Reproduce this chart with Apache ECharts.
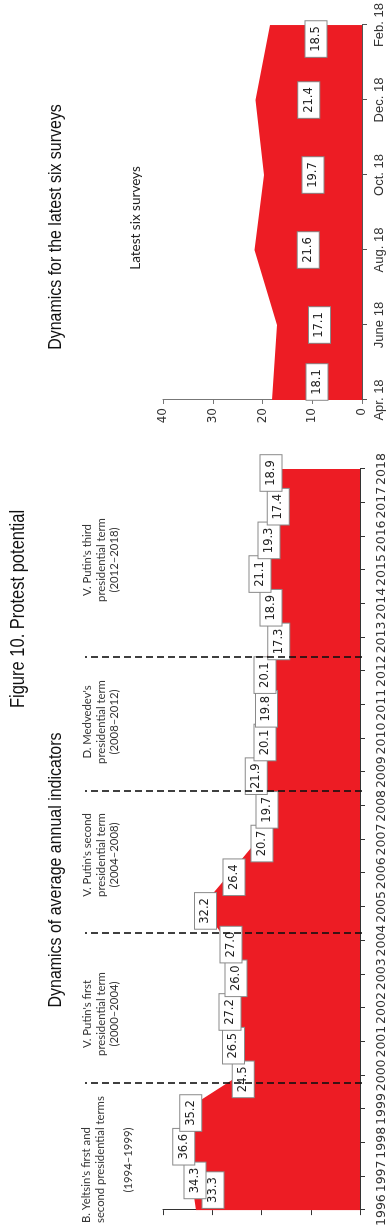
<!DOCTYPE html>
<html>
<head>
<meta charset="utf-8">
<script src="https://cdn.jsdelivr.net/npm/echarts@6/dist/echarts.min.js"></script>
<style>
  html, body { margin: 0; padding: 0; background: #fff; overflow: hidden; width: 388px; height: 1229px; }
  /* chart is drawn landscape, then turned to read bottom-to-top */
  #chart {
    position: absolute; left: 0; top: 0;
    width: 1229px; height: 388px;
    transform-origin: 0 0;
    transform: translate(0, 1229px) rotate(-90deg);
  }
</style>
</head>
<body>
<div id="chart"></div>
<script>
// annual averages
const years = ['1996', '1997', '1998', '1999', '2000', '2001', '2002', '2003', '2004', '2005', '2006',
  '2007', '2008', '2009', '2010', '2011', '2012', '2013', '2014', '2015', '2016', '2017', '2018'];
const annualValues = [33.3, 34.3, 36.6, 35.2, 24.5, 26.5, 27.2, 26.0, 27.0, 32.2, 26.4,
  20.7, 19.7, 21.9, 20.1, 19.8, 20.1, 17.3, 18.9, 21.1, 19.3, 17.4, 18.9];

// latest six surveys
const surveyMonths = ['Apr. 18', 'June 18', 'Aug. 18', 'Oct. 18', 'Dec. 18', 'Feb. 18'];
const surveyValues = [18.1, 17.1, 21.6, 19.7, 21.4, 18.5];

// presidential term boundaries (years)
const termBreaks = [1999.9, 2004.3, 2008.5, 2012.45];
const termNotes = [
  "V. Putin's first\npresidential term\n(2000\u20132004)",
  "V. Putin's second\npresidential term\n(2004\u20132008)",
  "D. Medvedev's\npresidential term\n(2008\u20132012)",
  "V. Putin's third\npresidential term\n(2012\u20132018)"
];
const yeltsinNote = "B. Yeltsin's first and\nsecond presidential terms";
const yeltsinYears = '(1994\u20131999)';

const RED = '#ed1c24';
const sans = "'Liberation Sans', Arial, sans-serif";
const small = "Lato, 'Open Sans', sans-serif";

const boxLabel = {
  show: true,
  position: 'inside',
  formatter: p => p.data.orig.toFixed(1),
  backgroundColor: '#fff',
  borderColor: '#8a8a8a',
  borderWidth: 1,
  padding: [5, 5, 4, 5],
  fontFamily: 'DejaVu Sans',
  fontSize: 11.5,
  color: '#222',
  opacity: 1
};

const chart = echarts.init(document.getElementById('chart'), null, { renderer: 'canvas' });

const noteXs = [215, 374, 507, 669];

// condensed heading text (the source uses a narrow face)
function heading(text, x, y, size, squeeze) {
  return {
    type: 'text', x: x, y: y, scaleX: squeeze, scaleY: 1,
    style: { text: text, font: size + 'px ' + sans, fill: '#111', align: 'center', verticalAlign: 'middle' }
  };
}

chart.setOption({
  animation: false,
  backgroundColor: '#fff',
  grid: [
    { left: 14, right: 469, top: 163, bottom: 26 },
    { left: 14, right: 469, top: 85, bottom: 26 },
    { left: 829, right: 10, top: 163, bottom: 26 }
  ],
  xAxis: [
    {
      gridIndex: 0, type: 'category', data: years, boundaryGap: false,
      axisLine: { lineStyle: { color: '#333' } },
      axisTick: { length: 5, lineStyle: { color: '#333' } },
      axisLabel: { interval: 0, margin: 15, fontFamily: 'DejaVu Sans', fontSize: 12.5, color: '#333' }
    },
    { gridIndex: 1, type: 'value', min: 1996, max: 2018, show: false },
    {
      gridIndex: 2, type: 'category', data: surveyMonths, boundaryGap: false,
      axisLine: { lineStyle: { color: '#555' } },
      axisTick: { length: 5, lineStyle: { color: '#555' } },
      axisLabel: { interval: 0, margin: 11, fontFamily: 'Liberation Sans', fontSize: 13, color: '#333' }
    }
  ],
  yAxis: [
    {
      gridIndex: 0, type: 'value', min: 0, max: 40, interval: 10,
      axisLine: { show: true, lineStyle: { color: '#333' } },
      axisTick: { show: true, length: 5, lineStyle: { color: '#333' } },
      axisLabel: { show: false },
      splitLine: { show: false }
    },
    { gridIndex: 1, type: 'value', min: 0, max: 1, show: false },
    {
      gridIndex: 2, type: 'value', min: 0, max: 40, interval: 10,
      axisLine: { show: true, lineStyle: { color: '#777' } },
      axisTick: { show: true, length: 4, lineStyle: { color: '#777' } },
      axisLabel: { margin: 8, fontFamily: 'DejaVu Sans', fontSize: 12, color: '#333' },
      splitLine: { show: false }
    }
  ],
  series: [
    {
      name: 'Annual',
      type: 'line', xAxisIndex: 0, yAxisIndex: 0,
      data: annualValues,
      symbol: 'none',
      lineStyle: { width: 0 },
      areaStyle: { color: RED, opacity: 1 }
    },
    {
      type: 'scatter', xAxisIndex: 0, yAxisIndex: 0,
      symbolSize: 0,
      itemStyle: { opacity: 1 },
      data: annualValues.map((v, i) => ({
        value: v, orig: v,
        label: i === 0 ? { offset: [20, 17] } : { offset: [-4, 4] }
      })),
      label: boxLabel,
      z: 3
    },
    {
      type: 'line', xAxisIndex: 1, yAxisIndex: 1,
      data: [],
      silent: true,
      z: 10,
      markLine: {
        symbol: 'none',
        silent: true,
        label: { show: false },
        lineStyle: { color: '#111', type: [7, 4], width: 1.6 },
        data: termBreaks.map(x => ({ xAxis: x }))
      }
    },
    {
      name: 'Latest six surveys',
      type: 'line', xAxisIndex: 2, yAxisIndex: 2,
      data: surveyValues,
      symbol: 'none',
      lineStyle: { width: 0 },
      areaStyle: { color: RED, opacity: 1 }
    },
    {
      type: 'scatter', xAxisIndex: 2, yAxisIndex: 2,
      symbolSize: 0,
      itemStyle: { opacity: 1 },
      // labels sit halfway up the area
      data: surveyValues.map((v, i) => ({
        value: v / 2, orig: v,
        label: { offset: [i === 0 ? 18 : (i === surveyValues.length - 1 ? -14 : 0), 0] }
      })),
      label: boxLabel,
      z: 3
    }
  ],
  graphic: [
    heading('Figure 10. Protest potential', 620, 18, 21, 0.786),
    heading('Dynamics of average annual indicators', 359, 56, 19, 0.84),
    heading('Dynamics for the latest six surveys', 1002, 56, 19, 0.84),
    {
      type: 'text', x: 1011, y: 136,
      style: { text: 'Latest six surveys', font: '13.5px ' + small, fill: '#222', align: 'center', verticalAlign: 'middle' }
    },
    {
      type: 'text', x: 6, y: 80,
      style: { text: yeltsinNote, font: '11.3px ' + small, lineHeight: 13.5, fill: '#333', align: 'left', verticalAlign: 'top' }
    },
    {
      type: 'text', x: 69, y: 128,
      style: { text: yeltsinYears, font: '11.3px ' + small, fill: '#333', align: 'center', verticalAlign: 'middle' }
    }
  ].concat(termNotes.map((t, i) => ({
    type: 'text', x: noteXs[i], y: 81,
    style: { text: t, font: '11.3px ' + small, lineHeight: 13.5, fill: '#333', align: 'center', verticalAlign: 'top' }
  })))
});
</script>
</body>
</html>
